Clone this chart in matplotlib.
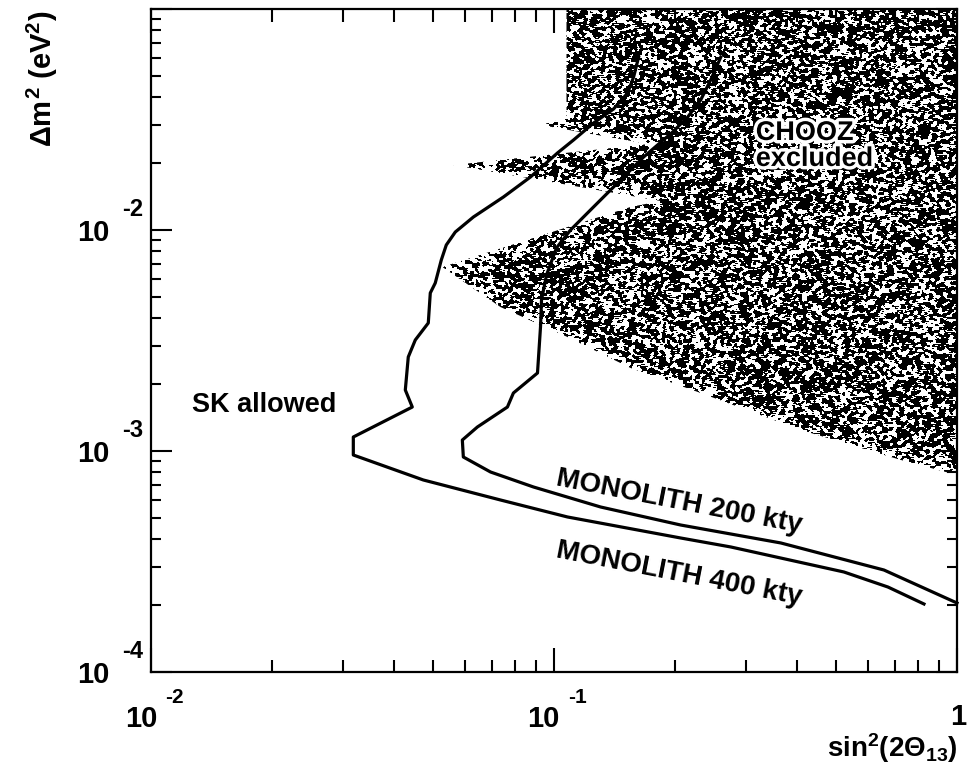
import numpy as np
import matplotlib
matplotlib.use("Agg")
import matplotlib.pyplot as plt
from matplotlib.patches import Polygon
from matplotlib import patheffects as pe
from matplotlib.transforms import blended_transform_factory

plt.rcParams['font.family'] = ['Liberation Sans', 'DejaVu Sans']
plt.rcParams['font.weight'] = 'bold'
plt.rcParams['mathtext.fontset'] = 'custom'
plt.rcParams['mathtext.rm'] = 'Liberation Sans:bold'
plt.rcParams['mathtext.it'] = 'Liberation Sans:bold'
plt.rcParams['mathtext.bf'] = 'Liberation Sans:bold'

# MONOLITH 400 kty sensitivity contour
m400_sin2 = [0.1622, 0.1576, 0.1523, 0.1405, 0.1254, 0.1118, 0.1020, 0.08741,
             0.07490, 0.06310, 0.05690, 0.05404, 0.05252, 0.05074, 0.04932,
             0.04876, 0.04527, 0.04349, 0.04276, 0.04450, 0.03177, 0.03177,
             0.04740, 0.07363, 0.1080, 0.2062, 0.2746, 0.5240, 0.6739, 0.8280]
m400_dm2 = [0.06065, 0.04925, 0.04168, 0.03527, 0.03050, 0.02554, 0.02231,
            0.01737, 0.01410, 0.01145, 0.009793, 0.008553, 0.007314, 0.005757,
            0.005187, 0.003795, 0.003179, 0.002663, 0.001888, 0.001581,
            0.001157, 0.0009592, 0.0007393, 0.0006003, 0.0005029, 0.0004040,
            0.0003679, 0.0002835, 0.0002424, 0.0002031]

# MONOLITH 200 kty sensitivity contour
m200_sin2 = [0.2594, 0.2448, 0.2312, 0.2147, 0.1970, 0.1669, 0.1438, 0.1232,
             0.1099, 0.1014, 0.09581, 0.09311, 0.09258, 0.09100, 0.07930,
             0.07663, 0.06455, 0.05923, 0.05957, 0.06958, 0.08894, 0.1305,
             0.2062, 0.3654, 0.6587, 1.0]
m200_dm2 = [0.06065, 0.04773, 0.03874, 0.03246, 0.02776, 0.02140, 0.01632,
            0.01232, 0.01000, 0.008291, 0.006257, 0.004825, 0.003640, 0.002254,
            0.001830, 0.001581, 0.001284, 0.001121, 0.0009394, 0.0008035,
            0.0006873, 0.0005580, 0.0004625, 0.0003836, 0.0002894, 0.0002052]

# CHOOZ excluded region (boundary, closed)
chooz_sin2 = [0.1074, 1.0, 1.0, 0.7259, 0.4098, 0.2312, 0.1549, 0.1080,
              0.07363, 0.05284, 0.1549, 0.1839, 0.05625, 0.1717, 0.09258,
              0.1074]
chooz_dm2 = [0.1, 0.1, 0.0007788, 0.0009107, 0.001245, 0.001830, 0.002375,
             0.003279, 0.004483, 0.006802, 0.01271, 0.01353, 0.01968,
             0.02449, 0.02987, 0.03212]

x_tick_vals = [0.01, 0.1, 1.0]
x_tick_base = ['10', '10', '1']
x_tick_exp = ['-2', '-1', '']
y_tick_vals = [1e-4, 1e-3, 1e-2]
y_tick_base = ['10', '10', '10']
y_tick_exp = ['-4', '-3', '-2']

PX = 0.72  # points per pixel at dpi 100

fig = plt.figure(figsize=(9.71, 7.69), dpi=100)
ax = fig.add_axes([0.15551, 0.12614, 0.83007, 0.86216])
ax.set_xscale('log')
ax.set_yscale('log')
ax.set_xlim(0.01, 1.0)
ax.set_ylim(1e-4, 0.1)
ax.set_autoscale_on(False)

# grainy stipple texture for the excluded region, thinning out near the
# slanted edges of the contour
bb = ax.bbox
w, h = int(round(bb.width)), int(round(bb.height))
rng = np.random.default_rng(11)
noise = rng.random((h, w))


def box_blur(a, r):
    out = np.zeros_like(a)
    for dy in range(-r, r + 1):
        for dx in range(-r, r + 1):
            out += np.roll(np.roll(a, dy, 0), dx, 1)
    return out / (2 * r + 1) ** 2


sm = box_blur(noise, 1)
sm = 0.5 * sm + 0.25 * (np.roll(sm, 1, 1) + np.roll(sm, -1, 1))
rank = np.empty(sm.size)
rank[np.argsort(sm, axis=None)] = np.arange(sm.size) / sm.size
rank = rank.reshape(sm.shape)

verts = ax.transData.transform(np.column_stack([chooz_sin2, chooz_dm2]))
jj, ii = np.meshgrid(np.arange(w), np.arange(h))
px = bb.x0 + (jj + 0.5) * bb.width / w
py = bb.y0 + (h - ii - 0.5) * bb.height / h
dist = np.full((h, w), 1e9)
for k in range(2, len(verts) - 1):
    a, b = verts[k], verts[k + 1]
    d = b - a
    t = np.clip(((px - a[0]) * d[0] + (py - a[1]) * d[1]) / (d @ d), 0, 1)
    dd = np.hypot(px - a[0] - t * d[0], py - a[1] - t * d[1])
    dist = np.minimum(dist, dd)
frac = 0.62 * np.clip(0.45 + 0.55 * dist / 10.0, 0, 1)
tex = (rank >= frac).astype(float)

im = ax.imshow(tex, cmap='gray', vmin=0, vmax=1, extent=(0, 1, 0, 1),
               transform=ax.transAxes, interpolation='nearest',
               aspect='auto', zorder=1)
region = Polygon(np.column_stack([chooz_sin2, chooz_dm2]), closed=True,
                 transform=ax.transData)
im.set_clip_path(region)
ax.set_xlim(0.01, 1.0)
ax.set_ylim(1e-4, 0.1)

ax.plot(m400_sin2, m400_dm2, color='black', lw=2.3, zorder=3,
        solid_joinstyle='round')
ax.plot(m200_sin2, m200_dm2, color='black', lw=2.3, zorder=3,
        solid_joinstyle='round', clip_on=False)

# frame and ticks
for s in ax.spines.values():
    s.set_linewidth(1.6)
ax.tick_params(which='both', direction='in', top=True, right=True,
               labelbottom=False, labelleft=False, width=1.5)
ax.tick_params(axis='x', which='major', length=17)
ax.tick_params(axis='x', which='minor', length=9)
ax.tick_params(axis='y', which='major', length=15)
ax.tick_params(axis='y', which='minor', length=7.5)

tx = blended_transform_factory(ax.transData, ax.transAxes)
for v, b, e in zip(x_tick_vals, x_tick_base, x_tick_exp):
    if e:
        ax.annotate(b, xy=(v, 0), xycoords=tx, xytext=(6 * PX, -55 * PX),
                    textcoords='offset points', ha='right', va='baseline',
                    fontsize=21, fontweight='bold')
        ax.annotate(e, xy=(v, 0), xycoords=tx, xytext=(14 * PX, -31 * PX),
                    textcoords='offset points', ha='left', va='baseline',
                    fontsize=15, fontweight='bold')
    else:
        ax.annotate(b, xy=(v, 0), xycoords=tx, xytext=(1 * PX, -53 * PX),
                    textcoords='offset points', ha='center', va='baseline',
                    fontsize=21, fontweight='bold')

ty = blended_transform_factory(ax.transAxes, ax.transData)
for v, b, e in zip(y_tick_vals, y_tick_base, y_tick_exp):
    ax.annotate(b, xy=(0, v), xycoords=ty, xytext=(-42 * PX, -11 * PX),
                textcoords='offset points', ha='right', va='baseline',
                fontsize=21, fontweight='bold')
    ax.annotate(e, xy=(0, v), xycoords=ty, xytext=(-8 * PX, 14 * PX),
                textcoords='offset points', ha='right', va='baseline',
                fontsize=17, fontweight='bold')

# axis titles
fig.text(42 / 971, 1 - 11 / 769, r'$\Delta m^{2}$ (eV$^{2}$)', rotation=90,
         ha='center', va='top', fontsize=21, fontweight='bold')
fig.text(958 / 971, 1 - 757 / 769, r'sin$^{2}$(2$\Theta_{13}$)',
         ha='right', va='baseline', fontsize=20, fontweight='bold')

# region and curve labels
ax.text(0.01264, 0.001501, 'SK allowed', fontsize=19.5, fontweight='bold',
        ha='left', va='baseline', zorder=4)
halo = [pe.withStroke(linewidth=5, foreground='white')]
ax.text(0.3167, 0.02554, 'CHOOZ', fontsize=19.5, fontweight='bold',
        ha='left', va='baseline', zorder=4, path_effects=halo)
ax.text(0.3167, 0.01949, 'excluded', fontsize=19.5, fontweight='bold',
        ha='left', va='baseline', zorder=4, path_effects=halo)
ax.text(0.1009, 7.017e-4, 'MONOLITH 200 kty', fontsize=20, fontweight='bold',
        ha='left', va='baseline', rotation=-11, rotation_mode='anchor',
        zorder=4)
ax.text(0.1009, 3.314e-4, 'MONOLITH 400 kty', fontsize=20, fontweight='bold',
        ha='left', va='baseline', rotation=-11, rotation_mode='anchor',
        zorder=4)

fig.savefig('out.png', dpi=100, facecolor='white')
